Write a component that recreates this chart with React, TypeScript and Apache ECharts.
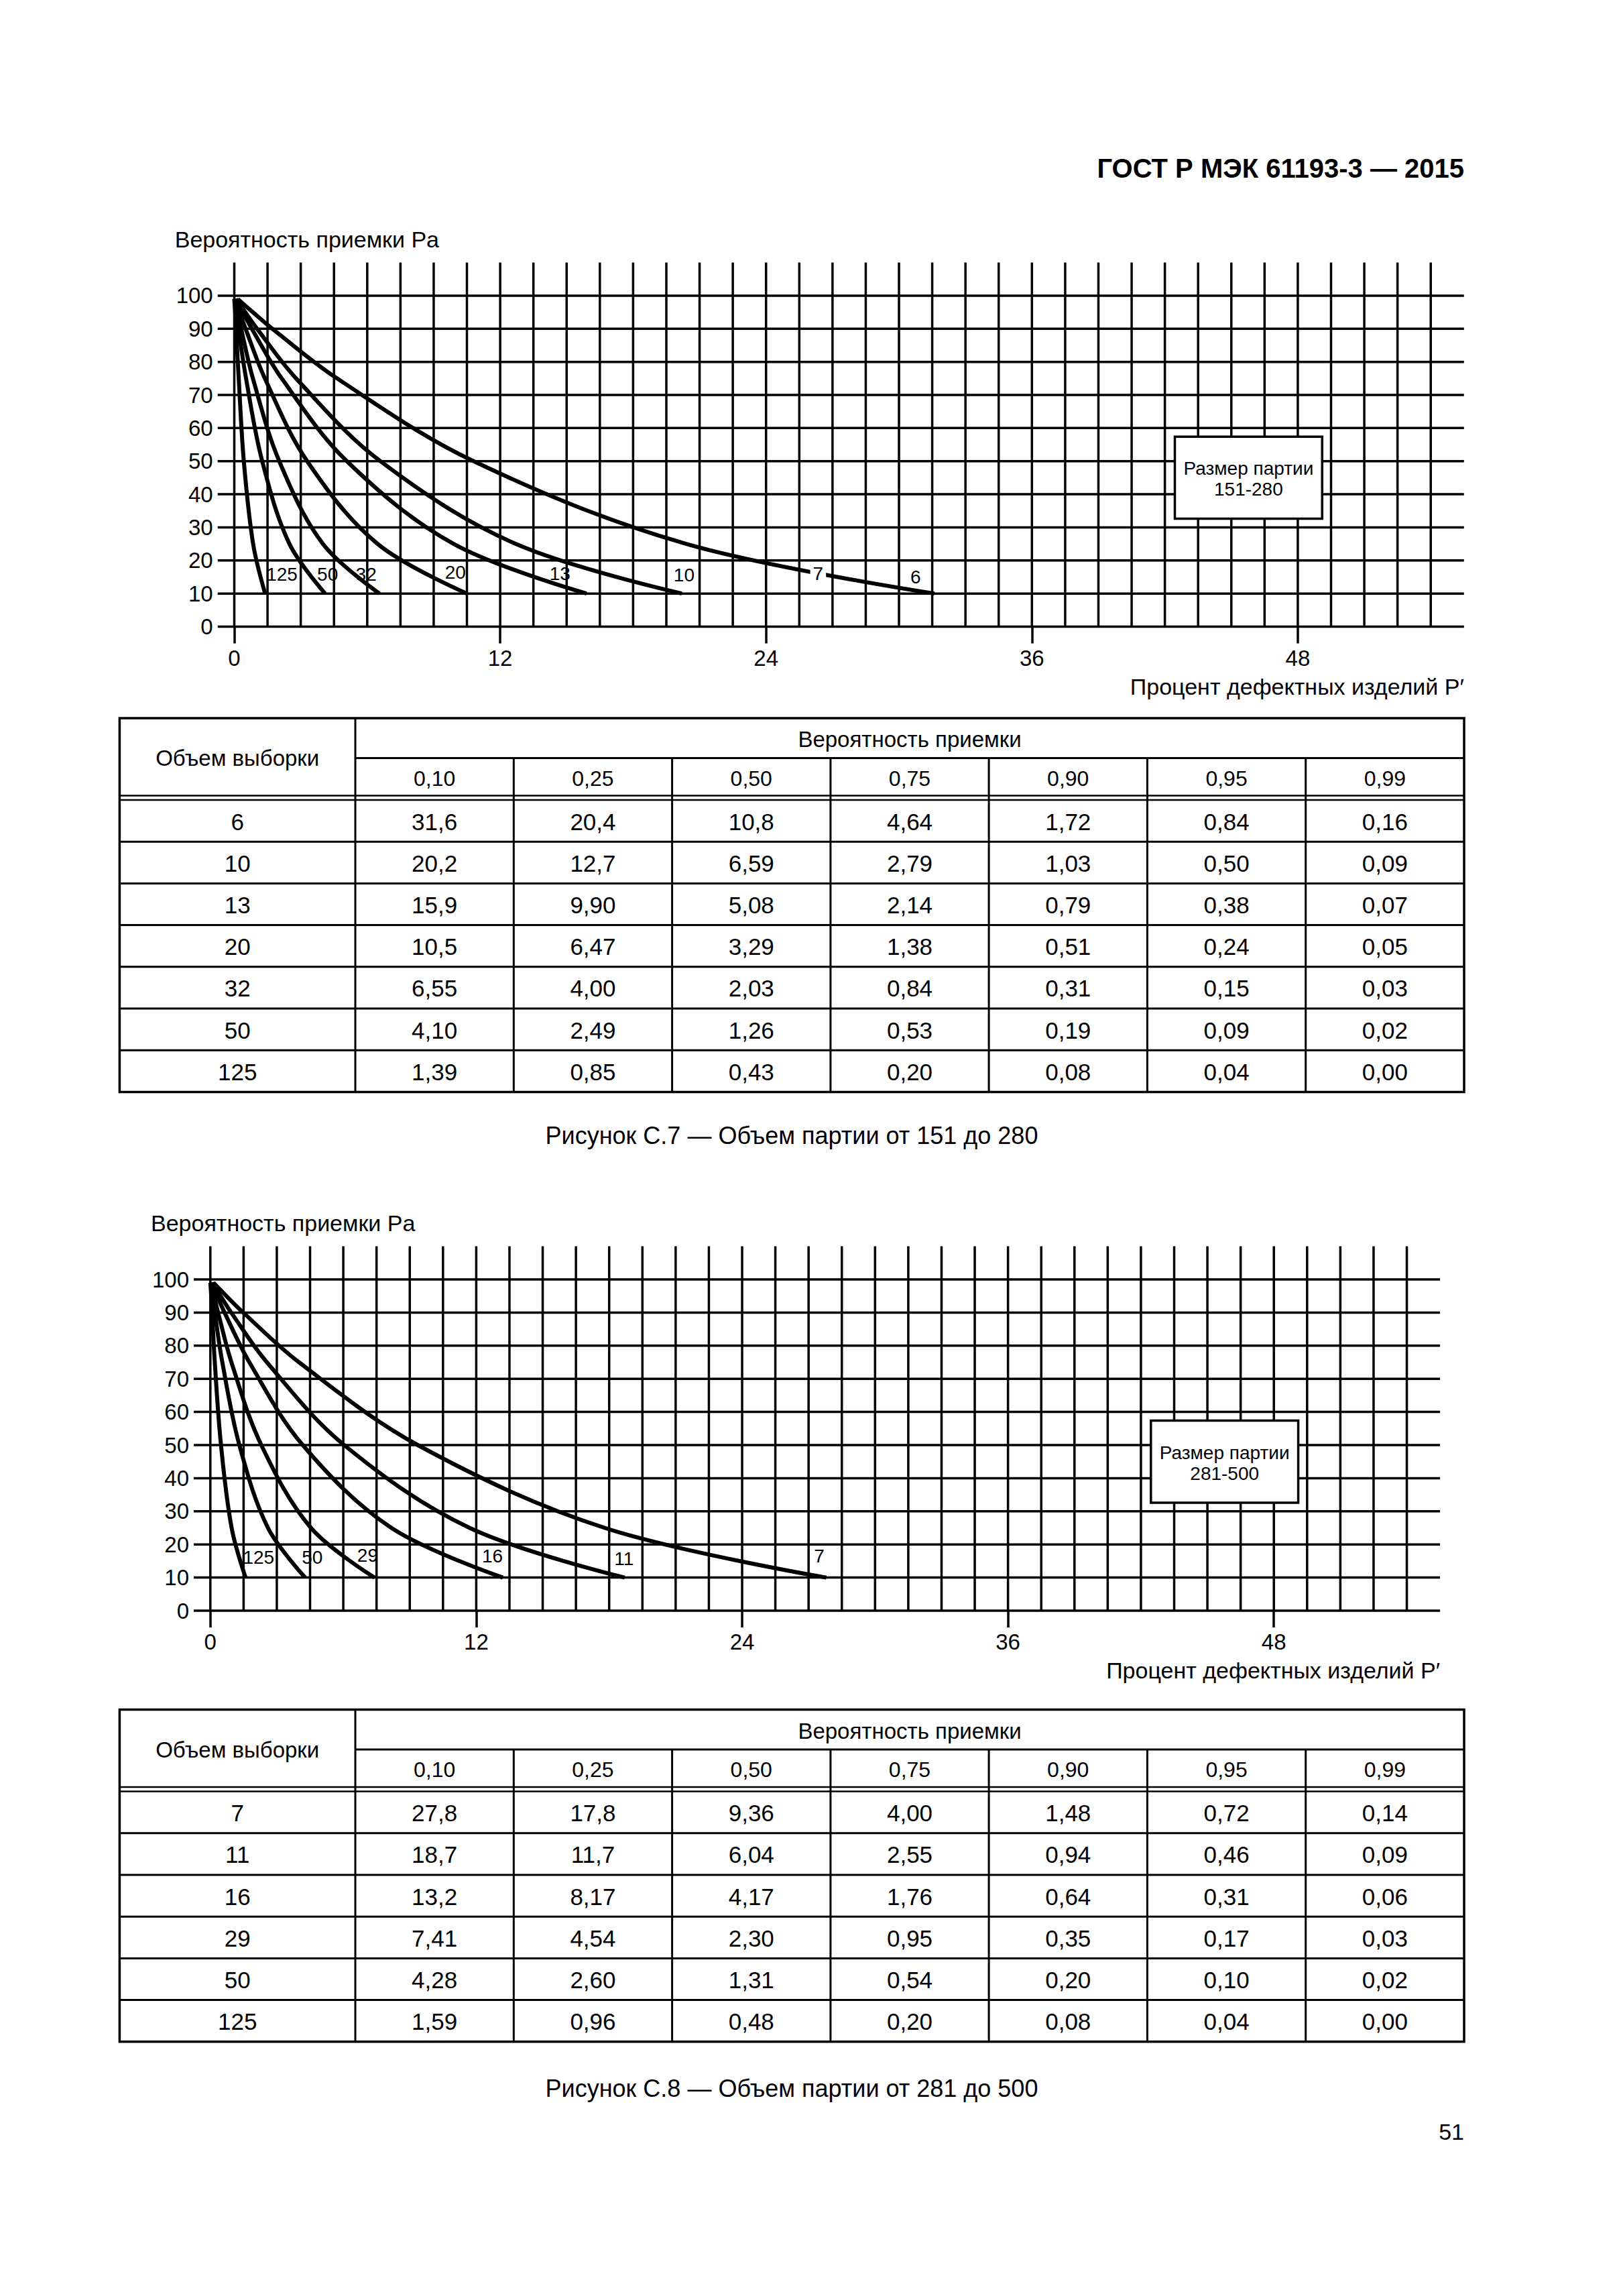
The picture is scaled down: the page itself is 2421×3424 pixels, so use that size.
import React, { useEffect, useRef } from "react";
import * as echarts from "echarts";

const FONT = "'Liberation Sans', Arial, Helvetica, sans-serif";

// ---- data ----
const PROB_HEADERS = ["0,10", "0,25", "0,50", "0,75", "0,90", "0,95", "0,99"];
const PA_PERCENT = [10, 25, 50, 75, 90, 95, 99];

const SAMPLE_SIZES_C7 = ["6", "10", "13", "20", "32", "50", "125"];
const DEFECTS_C7 = [
  [31.6, 20.4, 10.8, 4.64, 1.72, 0.84, 0.16],
  [20.2, 12.7, 6.59, 2.79, 1.03, 0.5, 0.09],
  [15.9, 9.9, 5.08, 2.14, 0.79, 0.38, 0.07],
  [10.5, 6.47, 3.29, 1.38, 0.51, 0.24, 0.05],
  [6.55, 4.0, 2.03, 0.84, 0.31, 0.15, 0.03],
  [4.1, 2.49, 1.26, 0.53, 0.19, 0.09, 0.02],
  [1.39, 0.85, 0.43, 0.2, 0.08, 0.04, 0.0],
];

const SAMPLE_SIZES_C8 = ["7", "11", "16", "29", "50", "125"];
const DEFECTS_C8 = [
  [27.8, 17.8, 9.36, 4.0, 1.48, 0.72, 0.14],
  [18.7, 11.7, 6.04, 2.55, 0.94, 0.46, 0.09],
  [13.2, 8.17, 4.17, 1.76, 0.64, 0.31, 0.06],
  [7.41, 4.54, 2.3, 0.95, 0.35, 0.17, 0.03],
  [4.28, 2.6, 1.31, 0.54, 0.2, 0.1, 0.02],
  [1.59, 0.96, 0.48, 0.2, 0.08, 0.04, 0.0],
];

const X_TICKS = [0, 12, 24, 36, 48];
const Y_TICKS = [0, 10, 20, 30, 40, 50, 60, 70, 80, 90, 100];
const X_GRID = [
  0, 1.5, 3, 4.5, 6, 7.5, 9, 10.5, 12, 13.5, 15, 16.5, 18, 19.5, 21, 22.5, 24,
  25.5, 27, 28.5, 30, 31.5, 33, 34.5, 36, 37.5, 39, 40.5, 42, 43.5, 45, 46.5,
  48, 49.5, 51, 52.5, 54,
];
const X_MIN = -0.75;
const X_MAX = 55.5;
const Y_MAX = 110;

// curve labels: [text, x, y, white background]
const CURVE_LABELS_C7 = [
  ["125", 2.15, 15.9, 0],
  ["50", 4.21, 15.9, 0],
  ["32", 5.95, 15.9, 0],
  ["20", 9.98, 16.5, 0],
  ["13", 14.7, 16.1, 0],
  ["10", 20.3, 15.6, 0],
  ["7", 26.35, 16.0, 1],
  ["6", 30.75, 15.0, 0],
];
const CURVE_LABELS_C8 = [
  ["125", 2.18, 16.1, 0],
  ["50", 4.6, 16.1, 0],
  ["29", 7.1, 16.8, 0],
  ["16", 12.73, 16.4, 0],
  ["11", 18.67, 15.6, 0],
  ["7", 27.48, 16.4, 0],
];

const BOX_TEXT_C7 = "Размер партии\n151-280";
const BOX_TEXT_C8 = "Размер партии\n281-500";
const BOX_AREA = [42.45, 57.4, 49.1, 32.6];

const HEADER = "ГОСТ Р МЭК 61193-3 — 2015";
const Y_TITLE = "Вероятность приемки Pa";
const X_TITLE = "Процент дефектных изделий P′";
const CAPTION_C7 = "Рисунок С.7 — Объем партии от 151 до 280";
const CAPTION_C8 = "Рисунок С.8 — Объем партии от 281 до 500";
const PAGE_NUMBER = "51";
const TABLE_COL_TITLE = "Объем выборки";
const TABLE_GROUP_TITLE = "Вероятность приемки";

// ---- layout ----
const GRIDS = [
  { left: 324.7, top: 391.6, width: 1859.1, height: 542.9 },
  { left: 289, top: 1858.6, width: 1859.1, height: 543.4 },
];
const TABLE_TOPS = [1071, 2549.6];
const COL_X = [178.4, 530, 766.3, 1002.6, 1238.9, 1475.1, 1711.4, 1947.7, 2184];
const ROW_H = 62.2;

function fmt(v: number): string {
  return (v >= 10 ? v.toFixed(1) : v.toFixed(2)).replace(".", ",");
}

function txt(x: number, y: number, text: string, size: number, align = "center", weight = "normal") {
  return {
    type: "text",
    x,
    y,
    silent: true,
    style: {
      text,
      fill: "#000",
      font: `${weight} ${size}px ${FONT}`,
      align,
      verticalAlign: "middle",
    },
  };
}

function ln(x1: number, y1: number, x2: number, y2: number, w = 3) {
  return {
    type: "line",
    silent: true,
    shape: { x1, y1, x2, y2 },
    style: { stroke: "#000", lineWidth: w },
  };
}

function tableGraphics(top: number, sizes: string[], rows: number[][]) {
  const els: any[] = [];
  const h1 = top + 59.5;
  const d1 = top + 115.5;
  const d2 = top + 122;
  const bottom = d2 + ROW_H * rows.length;
  const L = COL_X[0];
  const R = COL_X[COL_X.length - 1];
  els.push({
    type: "rect",
    silent: true,
    shape: { x: L, y: top, width: R - L, height: bottom - top },
    style: { fill: "none", stroke: "#000", lineWidth: 3.5 },
  });
  els.push(ln(COL_X[1], h1, R, h1, 3));
  els.push(ln(L, d1, R, d1, 2.5));
  els.push(ln(L, d2, R, d2, 2.5));
  for (let k = 1; k < rows.length; k++) {
    els.push(ln(L, d2 + k * ROW_H, R, d2 + k * ROW_H, 3));
  }
  els.push(ln(COL_X[1], top, COL_X[1], bottom, 3));
  for (let c = 2; c < COL_X.length - 1; c++) {
    els.push(ln(COL_X[c], h1, COL_X[c], bottom, 3));
  }
  els.push(txt((COL_X[0] + COL_X[1]) / 2, (top + d1) / 2 + 2, TABLE_COL_TITLE, 33));
  els.push(txt((COL_X[1] + R) / 2, (top + h1) / 2 + 2, TABLE_GROUP_TITLE, 33));
  PROB_HEADERS.forEach((h, i) => {
    els.push(txt((COL_X[i + 1] + COL_X[i + 2]) / 2, (h1 + d1) / 2 + 2, h, 32));
  });
  rows.forEach((row, r) => {
    const cy = d2 + ROW_H * r + ROW_H / 2 + 1;
    els.push(txt((COL_X[0] + COL_X[1]) / 2, cy, sizes[r], 35));
    row.forEach((v, i) => {
      els.push(txt((COL_X[i + 1] + COL_X[i + 2]) / 2, cy, fmt(v), 35));
    });
  });
  return els;
}

function buildOption() {
  const xAxis: any[] = [];
  const yAxis: any[] = [];
  const series: any[] = [];
  const figures = [
    { sizes: SAMPLE_SIZES_C7, rows: DEFECTS_C7, labels: CURVE_LABELS_C7, box: BOX_TEXT_C7 },
    { sizes: SAMPLE_SIZES_C8, rows: DEFECTS_C8, labels: CURVE_LABELS_C8, box: BOX_TEXT_C8 },
  ];
  figures.forEach((fig, g) => {
    xAxis.push({
      type: "value",
      gridIndex: g,
      min: X_MIN,
      max: X_MAX,
      axisLine: { show: false, onZero: false },
      axisTick: {
        show: true,
        customValues: X_TICKS,
        length: 25,
        lineStyle: { color: "#000", width: 3.5 },
      },
      axisLabel: {
        show: true,
        customValues: X_TICKS,
        margin: 30,
        color: "#000",
        fontSize: 33,
        fontFamily: FONT,
      },
      splitLine: { show: false },
    });
    yAxis.push({
      type: "value",
      gridIndex: g,
      min: 0,
      max: Y_MAX,
      interval: 10,
      axisLine: { show: false, onZero: false },
      axisTick: { show: false },
      axisLabel: {
        show: true,
        customValues: Y_TICKS,
        margin: 7,
        color: "#000",
        fontSize: 33,
        fontFamily: FONT,
      },
      splitLine: { show: false },
    });
    const segs: number[][] = [
      ...Y_TICKS.map((v) => [X_MIN, v, X_MAX, v]),
      ...X_GRID.map((v) => [v, 0, v, Y_MAX]),
    ];
    series.push({
      type: "custom",
      xAxisIndex: g,
      yAxisIndex: g,
      silent: true,
      clip: false,
      z: 1,
      encode: { x: [0, 2], y: [1, 3] },
      data: segs,
      renderItem: (params: any, api: any) => {
        const a = api.coord([api.value(0), api.value(1)]);
        const b = api.coord([api.value(2), api.value(3)]);
        return {
          type: "line",
          shape: { x1: a[0], y1: a[1], x2: b[0], y2: b[1] },
          style: { stroke: "#000", lineWidth: 3.5 },
        };
      },
    });
    fig.rows.forEach((row, r) => {
      series.push({
        type: "line",
        name: fig.sizes[r],
        xAxisIndex: g,
        yAxisIndex: g,
        data: PA_PERCENT.map((pa, i) => [row[i], pa]),
        smooth: 0.35,
        symbol: "none",
        silent: true,
        z: 3,
        lineStyle: { color: "#000", width: 6 },
      });
    });
    const labels = fig.labels as any[];
    series.push({
      type: "custom",
      xAxisIndex: g,
      yAxisIndex: g,
      silent: true,
      clip: false,
      z: 5,
      encode: { x: 0, y: 1 },
      data: labels.map((l) => [l[1], l[2]]),
      renderItem: (params: any, api: any) => {
        const l = labels[params.dataIndex];
        const p = api.coord([api.value(0), api.value(1)]);
        const style: any = {
          text: String(l[0]),
          fill: "#000",
          font: `28px ${FONT}`,
          align: "center",
          verticalAlign: "middle",
        };
        if (l[3]) {
          style.backgroundColor = "#fff";
          style.padding = [2, 4];
        }
        return { type: "text", x: p[0], y: p[1], style };
      },
    });
    series.push({
      type: "custom",
      xAxisIndex: g,
      yAxisIndex: g,
      silent: true,
      clip: false,
      z: 6,
      encode: { x: [0, 2], y: [1, 3] },
      data: [BOX_AREA],
      renderItem: (params: any, api: any) => {
        const a = api.coord([api.value(0), api.value(1)]);
        const b = api.coord([api.value(2), api.value(3)]);
        return {
          type: "group",
          children: [
            {
              type: "rect",
              shape: { x: a[0], y: a[1], width: b[0] - a[0], height: b[1] - a[1] },
              style: { fill: "#fff", stroke: "#000", lineWidth: 3.5 },
            },
            {
              type: "text",
              x: (a[0] + b[0]) / 2,
              y: (a[1] + b[1]) / 2 + 2,
              style: {
                text: fig.box,
                fill: "#000",
                font: `28px ${FONT}`,
                lineHeight: 31,
                align: "center",
                verticalAlign: "middle",
              },
            },
          ],
        };
      },
    });
  });

  const graphic: any[] = [];
  graphic.push(txt(2184, 251, HEADER, 40, "right", "bold"));
  GRIDS.forEach((gr) => {
    graphic.push(txt(gr.left - 64, gr.top - 35, Y_TITLE, 34, "left"));
    graphic.push(txt(gr.left + gr.width, gr.top + gr.height + 89, X_TITLE, 34, "right"));
  });
  graphic.push(...tableGraphics(TABLE_TOPS[0], SAMPLE_SIZES_C7, DEFECTS_C7));
  graphic.push(...tableGraphics(TABLE_TOPS[1], SAMPLE_SIZES_C8, DEFECTS_C8));
  graphic.push(txt(1181, 1693, CAPTION_C7, 36));
  graphic.push(txt(1181, 3114, CAPTION_C8, 36));
  graphic.push(txt(2184, 3179, PAGE_NUMBER, 34, "right"));

  return {
    animation: false,
    backgroundColor: "#fff",
    textStyle: { fontFamily: FONT },
    grid: GRIDS.map((g) => ({ ...g, containLabel: false })),
    xAxis,
    yAxis,
    series,
    graphic,
  };
}

export default function App() {
  const ref = useRef<HTMLDivElement>(null);
  useEffect(() => {
    if (!ref.current) return;
    const chart = echarts.init(ref.current, null, { renderer: "svg" });
    chart.setOption(buildOption() as any);
    return () => chart.dispose();
  }, []);
  return (
    <div
      ref={ref}
      style={{
        position: "absolute",
        left: 0,
        top: 0,
        width: 2421,
        height: 3424,
        background: "#fff",
      }}
    />
  );
}
